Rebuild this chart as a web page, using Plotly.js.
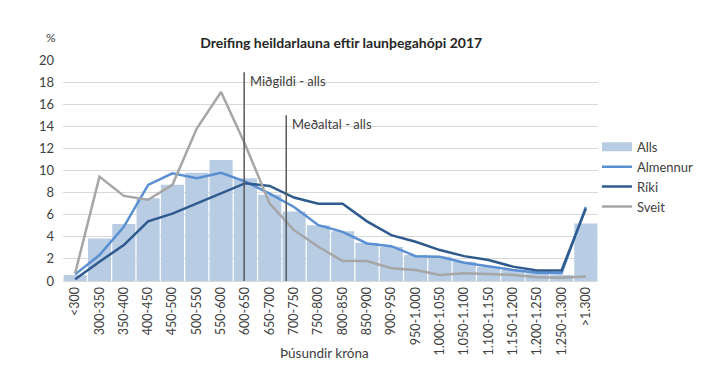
<!DOCTYPE html>
<html>
<head>
<meta charset="utf-8">
<script src="https://cdn.plot.ly/plotly-3.0.1.min.js"></script>
<style>html,body{margin:0;padding:0;background:#fff;}#chart{width:713px;height:383px;}</style>
</head>
<body>
<div id="chart"></div>
<script>
const categories = ["<300","300-350","350-400","400-450","450-500","500-550","550-600","600-650","650-700","700-750","750-800","800-850","850-900","900-950","950-1.000","1.000-1.050","1.050-1.100","1.100-1.150","1.150-1.200","1.200-1.250","1.250-1.300",">1.300"];
const alls     = [0.55,3.85,5.15,7.5,8.7,9.8,10.95,9.3,7.8,6.3,5.05,4.5,3.45,3.1,2.35,2.2,1.75,1.3,1.0,0.7,0.55,5.2];
const almennur = [0.6,2.35,4.9,8.7,9.75,9.3,9.8,9.0,7.9,6.7,5.05,4.45,3.4,3.15,2.25,2.2,1.65,1.3,1.0,0.75,0.7,6.7];
const riki     = [0.15,1.75,3.25,5.4,6.1,7.0,7.9,8.85,8.6,7.55,7.0,7.0,5.4,4.15,3.55,2.8,2.25,1.9,1.3,0.95,0.95,6.55];
const sveit    = [0.7,9.45,7.7,7.35,8.7,13.8,17.1,12.3,7.0,4.6,3.1,1.8,1.8,1.15,1.0,0.55,0.7,0.65,0.55,0.35,0.3,0.4];
const seriesNames = ["Alls","Almennur","Ríki","Sveit"];
// reference lines: position in category index units, height in %
const refLabels = ["Miðgildi - alls","Meðaltal - alls"];
const refX = [6.95, 8.68];
const refTop = [18.9, 15.0];
const yTicks = [0,2,4,6,8,10,12,14,16,18,20];

const font = "Lato, 'Open Sans', sans-serif";
const txt = "#404040";
const barColor = "#b8cce4";

const traces = [
  {type:"bar", x:categories, y:alls, name:seriesNames[0], marker:{color:barColor}, showlegend:false},
  {type:"scatter", mode:"lines", x:[null], y:[null], name:seriesNames[0], line:{color:barColor, width:9}, showlegend:true},
  {type:"scatter", mode:"lines", x:categories, y:almennur, name:seriesNames[1], line:{color:"#5a8fd2", width:2.5}},
  {type:"scatter", mode:"lines", x:categories, y:riki, name:seriesNames[2], line:{color:"#2e5a8e", width:2.5}},
  {type:"scatter", mode:"lines", x:categories, y:sveit, name:seriesNames[3], line:{color:"#a6a6a6", width:2.5}}
];

const shapes = refX.map((xv,i)=>({type:"line", xref:"x", yref:"y", x0:xv, x1:xv, y0:0, y1:refTop[i], line:{color:"#595959", width:1.5}, layer:"above"}));
const annotations = refX.map((xv,i)=>({xref:"x", yref:"y", x:xv, y:refTop[i]-0.8, xanchor:"left", yanchor:"middle", xshift:4, text:refLabels[i], showarrow:false, font:{family:font, size:13, color:txt}}));
annotations.push({xref:"paper", yref:"paper", x:-0.022, y:1.1, xanchor:"center", yanchor:"middle", text:"%", showarrow:false, font:{family:font, size:12, color:txt}});
annotations.push({xref:"paper", yref:"paper", x:0.488, y:-0.325, xanchor:"center", yanchor:"middle", text:"Þúsundir króna", showarrow:false, font:{family:font, size:13.5, color:txt}});

const layout = {
  width:713, height:383,
  margin:{l:63, r:115, t:60, b:102},
  paper_bgcolor:"#fff", plot_bgcolor:"#fff",
  font:{family:font, size:12, color:txt},
  title:{text:"<b>Dreifing heildarlauna eftir launþegahópi 2017</b>", x:0.52, xanchor:"center", xref:"paper", y:0.888, yanchor:"middle", font:{family:font, size:14, color:"#262626"}},
  bargap:0.05,
  showlegend:true,
  legend:{x:0.998, xanchor:"left", y:0.675, yanchor:"top", font:{family:font, size:13, color:txt}, tracegroupgap:0, itemwidth:30, bgcolor:"rgba(0,0,0,0)"},
  xaxis:{type:"category", tickangle:-90, showgrid:false, showline:true, linecolor:"#d9d9d9", linewidth:1, ticks:"", tickfont:{family:font, size:12.5, color:txt}, fixedrange:true},
  yaxis:{range:[0,20], tickvals:yTicks, showgrid:true, gridcolor:"#d9d9d9", gridwidth:1, zeroline:false, showline:false, ticks:"", ticklabelstandoff:8, tickfont:{family:font, size:13, color:txt}, fixedrange:true},
  shapes:shapes,
  annotations:annotations
};

Plotly.newPlot("chart", traces, layout, {displayModeBar:false, staticPlot:true});
</script>
</body>
</html>
